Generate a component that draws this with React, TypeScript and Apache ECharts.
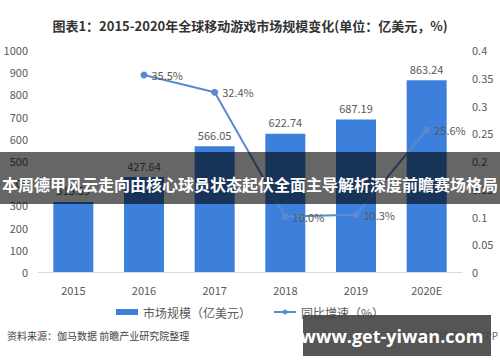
import React, { useEffect, useRef } from "react";
import * as echarts from "echarts";

const years = ["2015", "2016", "2017", "2018", "2019", "2020E"];
const marketSize = [315.59, 427.64, 566.05, 622.74, 687.19, 863.24];
const growth = [null, 0.355, 0.324, 0.1, 0.103, 0.256];
const growthLabels = ["", "35.5%", "32.4%", "10.0%", "10.3%", "25.6%"];

const titleText = "图表1：2015-2020年全球移动游戏市场规模变化(单位：亿美元，%)";
const bannerText = "本周德甲风云走向由核心球员状态起伏全面主导解析深度前瞻赛场格局";
const sourceText = "资料来源：伽马数据 前瞻产业研究院整理";
const watermarkText = "www.get-yiwan.com";

const FONT = "'Noto Sans CJK SC', 'Noto Sans', sans-serif";

export default function App() {
  const ref = useRef<HTMLDivElement>(null);
  useEffect(() => {
    if (!ref.current) return;
    const chart = echarts.init(ref.current, null, { renderer: "svg" });
    chart.setOption({
      animation: false,
      backgroundColor: "#ffffff",
      textStyle: { fontFamily: FONT },
      title: {
        text: titleText,
        left: "center",
        top: 14,
        textStyle: { fontSize: 13, fontWeight: "bold", color: "#333333", fontFamily: FONT },
      },
      grid: { left: 38, right: 38, top: 50, bottom: 90, containLabel: false },
      legend: {
        top: 301,
        left: "center",
        itemGap: 22,
        itemWidth: 22,
        itemHeight: 6,
        textStyle: { fontSize: 12, color: "#595959", fontFamily: FONT },
        data: [
          { name: "市场规模（亿美元）", icon: "rect" },
          { name: "同比增速（%）" },
        ],
      },
      xAxis: {
        type: "category",
        data: years,
        axisLine: { lineStyle: { color: "#d9d9d9" } },
        axisTick: { show: false },
        axisLabel: { color: "#595959", fontSize: 11, margin: 12 },
      },
      yAxis: [
        {
          type: "value",
          min: 0,
          max: 1000,
          interval: 100,
          splitLine: { show: false },
          axisLine: { show: false },
          axisTick: { show: false },
          axisLabel: {
            color: "#595959",
            fontSize: 11,
            margin: 10,
            formatter: (v: number) => String(v),
          },
        },
        {
          type: "value",
          min: 0,
          max: 0.4,
          interval: 0.05,
          splitLine: { show: false },
          axisLine: { show: false },
          axisTick: { show: false },
          axisLabel: {
            color: "#595959",
            fontSize: 11,
            margin: 10,
            formatter: (v: number) => String(parseFloat(v.toFixed(2))),
          },
        },
      ],
      series: [
        {
          name: "市场规模（亿美元）",
          type: "bar",
          data: marketSize,
          barWidth: 40,
          itemStyle: { color: "#3d80dc" },
          label: {
            show: true,
            position: "top",
            color: "#595959",
            fontSize: 11,
            distance: 6,
            formatter: (p: any) => p.value.toFixed(2),
          },
        },
        {
          name: "同比增速（%）",
          type: "line",
          yAxisIndex: 1,
          data: growth,
          symbol: "circle",
          symbolSize: 7,
          lineStyle: { color: "#5a8ad2", width: 2 },
          itemStyle: { color: "#5a8ad2" },
          label: {
            show: true,
            position: "right",
            color: "#595959",
            fontSize: 11,
            distance: 4,
            formatter: (p: any) => growthLabels[p.dataIndex],
          },
        },
      ],
      graphic: [
        {
          type: "text",
          left: 7,
          top: 330,
          style: { text: sourceText, fontSize: 10, fill: "#444444", fontFamily: FONT },
        },
        {
          type: "text",
          right: 2,
          top: 330,
          style: { text: "前瞻经济学人APP", fontSize: 10, fill: "#666666", fontFamily: FONT },
        },
        {
          type: "rect",
          z: 100,
          shape: { x: 0, y: 152, width: 500, height: 52 },
          style: { fill: "rgba(0,0,0,0.6)" },
        },
        {
          type: "text",
          z: 101,
          x: 250,
          y: 184,
          style: {
            text: bannerText,
            fontSize: 16,
            fontWeight: "bold",
            fill: "#ffffff",
            align: "center",
            verticalAlign: "middle",
            fontFamily: FONT,
          },
        },
        {
          type: "rect",
          z: 100,
          shape: { x: 303, y: 315, width: 188, height: 41 },
          style: { fill: "rgba(70,70,70,0.92)" },
        },
        {
          type: "text",
          z: 101,
          x: 392,
          y: 336,
          style: {
            text: watermarkText,
            fontSize: 18,
            fontWeight: "bold",
            fill: "#ffffff",
            align: "center",
            verticalAlign: "middle",
            fontFamily: "'Open Sans', 'DejaVu Sans', sans-serif",
          },
        },
      ],
    });
    return () => chart.dispose();
  }, []);
  return (
    <div
      ref={ref}
      style={{ position: "fixed", left: 0, top: 0, width: 500, height: 362 }}
    />
  );
}
